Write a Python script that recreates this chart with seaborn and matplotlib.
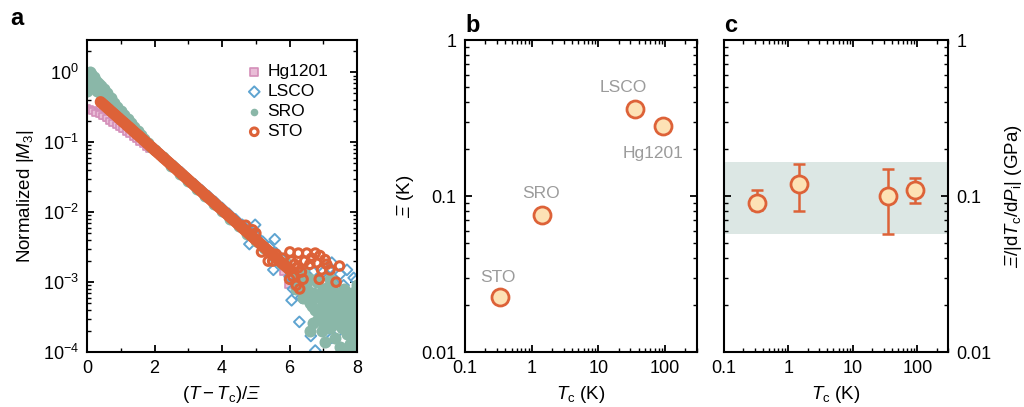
import matplotlib
matplotlib.use('Agg')
import matplotlib.pyplot as plt
import seaborn as sns
import numpy as np
import pandas as pd

# ---- panel a: normalized |M3| vs (T - Tc)/Xi ----
sto_x = [0.4, 0.5, 0.6, 0.7, 0.8, 0.9, 1.0, 1.1, 1.2, 1.3, 1.4, 1.5, 1.6, 1.7, 1.8, 1.9,
         2.0, 2.1, 2.2, 2.3, 2.4, 2.5, 2.6, 2.7, 2.8, 2.9, 3.0, 3.1, 3.2, 3.3, 3.4, 3.5,
         3.6, 3.7, 3.8, 3.9, 4.0, 4.1, 4.2, 4.3, 4.4, 4.5, 4.6, 4.7, 4.8, 4.9, 5.0, 5.1,
         5.2, 5.3, 5.4, 5.5, 5.6, 5.7, 5.8, 5.9, 6.0,
         0.45, 0.55, 0.65, 0.75, 0.85, 0.95, 1.05, 1.15, 1.25, 1.35, 1.45, 1.55, 1.65,
         1.75, 1.85, 1.95, 2.05, 2.15, 2.25, 2.35, 2.45, 2.55, 2.65, 2.75, 2.85, 2.95,
         3.05, 3.15, 3.25, 3.35, 3.45, 3.55, 3.65, 3.75, 3.85, 3.95, 4.05, 4.15, 4.25,
         4.35, 4.45, 4.55, 4.65, 4.75, 4.85, 4.95, 5.05, 5.15, 5.25, 5.35, 5.45, 5.55,
         5.65, 5.75, 5.85, 5.95,
         6.01, 6.26, 6.51, 6.76, 6.9, 7.48, 7.38, 6.88, 7.2, 6.95, 5.37, 5.17, 6.1, 6.2,
         6.3, 6.15, 6.35, 6.45, 6.6, 6.65, 6.8, 7.05, 7.1, 6.4, 6.05, 6.25, 5.6, 5.8,
         6.0, 5.0, 4.9, 4.7, 5.5]
sto_y = [0.378, 0.343, 0.311, 0.281, 0.255, 0.231, 0.209, 0.190, 0.172, 0.156, 0.141,
         0.128, 0.116, 0.105, 0.0949, 0.0860, 0.0779, 0.0706, 0.0639, 0.0579, 0.0525,
         0.0475, 0.0431, 0.0390, 0.0354, 0.0320, 0.0290, 0.0263, 0.0238, 0.0216, 0.0196,
         0.0177, 0.0161, 0.0146, 0.0132, 0.0119, 0.0108, 0.0098, 0.00888, 0.00805,
         0.00729, 0.0066, 0.00598, 0.00542, 0.00491, 0.00445, 0.00403, 0.00365, 0.00331,
         0.0030, 0.00272, 0.00246, 0.00223, 0.00202, 0.00183, 0.00166, 0.0015,
         0.360, 0.327, 0.296, 0.268, 0.243, 0.220, 0.199, 0.181, 0.164, 0.148, 0.134,
         0.122, 0.110, 0.0999, 0.0904, 0.0819, 0.0742, 0.0672, 0.0609, 0.0551, 0.0500,
         0.0452, 0.0410, 0.0372, 0.0337, 0.0305, 0.0276, 0.0250, 0.0227, 0.0206, 0.0186,
         0.0169, 0.0153, 0.0139, 0.0125, 0.0114, 0.0103, 0.00933, 0.00845, 0.00766,
         0.00694, 0.00628, 0.00569, 0.00516, 0.00467, 0.00424, 0.00384, 0.00348,
         0.00315, 0.00285, 0.00259, 0.00234, 0.00212, 0.00192, 0.00174, 0.00158,
         0.0027, 0.0026, 0.0026, 0.0026, 0.0024, 0.0017, 0.0010, 0.0011, 0.0015, 0.0015,
         0.0020, 0.0027, 0.0012, 0.0009, 0.0008, 0.0018, 0.0014, 0.0020, 0.0018, 0.0022,
         0.0019, 0.0021, 0.0018, 0.0011, 0.0020, 0.0016, 0.0025, 0.0022, 0.0011, 0.0050,
         0.0056, 0.0065, 0.0020]

sro_x = [0.0, 0.0, 0.0, 0.03, 0.03, 0.06, 0.06, 0.09, 0.09, 0.12, 0.15, 0.15, 0.2, 0.2,
         0.25, 0.3, 0.3, 0.35, 0.4, 0.4, 0.5, 0.5, 0.6, 0.6, 0.7, 0.8, 0.9, 1.0, 1.1, 1.2,
         1.3, 1.4, 1.5, 1.6, 1.7, 1.8, 1.9, 2.0, 2.25, 2.5, 2.75, 3.0, 3.25, 3.5, 3.75,
         4.0, 4.25, 4.5, 4.75, 5.0, 5.25, 5.5, 5.75, 6.0, 6.2,
         6.2, 6.4, 6.5, 6.6, 6.7, 6.75, 6.8, 6.85, 6.9, 6.95, 7.0, 7.0, 7.05, 7.1, 7.15,
         7.2, 7.25, 7.3, 7.35, 7.4, 7.4, 7.45, 7.5, 7.5, 7.55, 7.6, 7.6, 7.65, 7.7, 7.7,
         7.75, 7.8, 7.8, 7.85, 7.85, 7.9, 7.9, 7.95, 7.95, 8.0, 8.0, 8.0, 6.6, 7.2, 6.4,
         6.55, 6.65, 6.8, 6.9, 7.0, 7.1, 7.15, 7.25, 7.3, 7.35, 7.45, 7.5, 7.55, 7.6,
         7.65, 7.7, 7.75, 7.8, 7.85, 7.9, 7.95, 8.0, 7.0, 7.3, 7.5, 7.7, 7.9, 6.7, 7.1,
         6.6, 7.4, 7.6, 7.8, 8.0, 6.3, 6.45, 5.9, 0.05, 0.1, 0.18, 0.25, 0.45]
sro_y = [0.55, 0.7, 0.85, 0.6, 0.9, 0.7, 0.97, 0.8, 1.0, 0.95, 0.88, 0.62, 0.85, 0.6,
         0.78, 0.74, 0.55, 0.68, 0.64, 0.5, 0.57, 0.46, 0.5, 0.41, 0.43, 0.37, 0.32, 0.28,
         0.245, 0.215, 0.19, 0.165, 0.145, 0.128, 0.112, 0.099, 0.087, 0.077, 0.0625,
         0.046, 0.0355, 0.0275, 0.0215, 0.0168, 0.0132, 0.0103, 0.0080, 0.0063, 0.0049,
         0.0039, 0.0031, 0.0024, 0.0019, 0.0015, 0.0013,
         8e-4, 6e-4, 9e-4, 5e-4, 7e-4, 4e-4, 1e-3, 3e-4, 6e-4, 2e-4, 4.5e-4, 8e-4, 1.4e-4,
         3e-4, 6e-4, 2.2e-4, 9e-4, 4e-4, 1.6e-4, 5e-4, 2.5e-4, 7e-4, 3.5e-4, 1.2e-4,
         5.5e-4, 2.8e-4, 8e-4, 4e-4, 1.8e-4, 6e-4, 3e-4, 5e-4, 1.1e-4, 2.5e-4, 7e-4,
         4e-4, 1.5e-4, 5.5e-4, 3e-4, 9e-4, 2e-4, 4.5e-4, 1.1e-3, 1.1e-3, 1.5e-3,
         7.5e-4, 4.5e-4, 6.5e-4, 3.5e-4, 5.5e-4, 4.2e-4, 8.5e-4, 3.2e-4, 6.5e-4, 2.8e-4,
         4.2e-4, 6e-4, 2.2e-4, 4.8e-4, 7.5e-4, 3.6e-4, 5.2e-4, 2.2e-4, 4.6e-4, 3.4e-4,
         4.2e-4, 6.5e-4, 2.6e-4, 5.5e-4, 2.6e-4, 2.4e-4, 5.8e-4, 2.6e-4, 5.2e-4, 2.0e-4,
         3.2e-4, 3.0e-4, 1.3e-4, 3.6e-4, 1.0e-3, 1.2e-3, 1.9e-3, 0.75, 0.9, 0.7, 0.65, 0.55]

lsco_x = [0.0, 0.2, 0.4, 0.6, 0.8, 1.0, 1.2, 1.4, 1.6, 1.8, 2.0, 2.2, 2.4, 2.6, 2.8, 3.0,
          3.2, 3.4, 3.6, 3.8, 4.0, 4.2, 4.4, 4.6, 4.8, 5.0, 5.2, 5.4,
          4.81, 4.98, 5.56, 5.52, 5.6, 5.8, 6.06, 6.0, 6.1, 6.2, 6.29, 6.35, 6.4, 6.5,
          6.63, 6.6, 6.76, 6.8, 6.9, 7.0, 7.1, 7.25, 7.3, 7.4, 7.5, 7.6, 7.7, 7.8, 7.9,
          7.9, 7.97, 8.0, 7.2, 6.7, 7.45, 7.25]
lsco_y = [0.7, 0.6, 0.48, 0.38, 0.3, 0.235, 0.185, 0.148, 0.12, 0.098, 0.08, 0.066,
          0.054, 0.045, 0.037, 0.030, 0.025, 0.0205, 0.017, 0.014, 0.0115, 0.0095,
          0.0079, 0.0066, 0.0055, 0.0046, 0.0038, 0.0032,
          0.0035, 0.0066, 0.0041, 0.0015, 0.0026, 0.0021, 5.5e-4, 1.2e-3, 8e-4, 1.1e-3,
          2.7e-4, 6e-4, 9e-4, 1.3e-3, 1.7e-4, 7e-4, 1.05e-4, 1.1e-3, 8e-4, 1.4e-3, 6e-4,
          1.9e-3, 1.0e-3, 7e-4, 1.3e-3, 9e-4, 1.5e-3, 6e-4, 1.15e-3, 1.0e-4, 1.05e-3,
          8e-4, 1.6e-3, 1.4e-3, 2.0e-4, 1.6e-4]

hg_x = [0.0, 0.1, 0.2, 0.3, 0.4, 0.5, 0.6, 0.7, 0.8, 0.9, 1.0, 1.1, 1.2, 1.3, 1.4, 1.5,
        1.6, 1.7, 1.8, 1.9, 2.0, 2.25, 2.5, 2.75, 3.0, 3.25, 3.5, 3.75, 4.0, 4.25, 4.5,
        4.75, 5.0, 5.25, 5.5, 5.75, 6.0, 5.82, 5.96, 6.05,
        0.05, 0.15, 0.25, 0.35, 0.45, 0.55, 0.65, 0.75, 0.85, 0.95, 1.05, 1.15, 1.25,
        1.35, 1.45, 1.55, 1.65, 1.75, 1.85]
hg_y = [0.31, 0.30, 0.285, 0.27, 0.255, 0.24, 0.225, 0.21, 0.195, 0.182, 0.168, 0.156,
        0.145, 0.134, 0.124, 0.114, 0.105, 0.097, 0.089, 0.082, 0.076, 0.062, 0.047,
        0.036, 0.028, 0.0215, 0.0168, 0.0131, 0.0103, 0.0081, 0.0064, 0.0050, 0.0039,
        0.0031, 0.0024, 0.0019, 0.0015, 0.0014, 0.0009, 0.0011,
        0.29, 0.28, 0.265, 0.25, 0.235, 0.22, 0.205, 0.19, 0.178, 0.165, 0.153, 0.142,
        0.131, 0.121, 0.111, 0.102, 0.094, 0.086, 0.079]

# ---- panels b and c ----
samples = ['STO', 'SRO', 'LSCO', 'Hg1201']
tc = [0.33, 1.45, 35, 93]
xi = [0.0224, 0.0755, 0.36, 0.28]
ratio = [0.090, 0.120, 0.100, 0.110]
ratio_lo = [0.081, 0.080, 0.057, 0.090]
ratio_hi = [0.110, 0.160, 0.150, 0.130]
band_lo, band_hi = 0.057, 0.165

c_orange = '#dd6238'
c_fill = '#fde2b5'
c_teal = '#8ab7a8'
c_blue = '#5ea4d1'
c_pink = '#d48fb9'
c_gray = '#9b9b9b'

sns.set_theme(style='ticks')
plt.rcParams['font.family'] = ['Liberation Sans', 'DejaVu Sans']
plt.rcParams['mathtext.fontset'] = 'custom'
plt.rcParams['mathtext.rm'] = 'Liberation Sans'
plt.rcParams['mathtext.it'] = 'Liberation Sans:italic'
plt.rcParams['mathtext.sf'] = 'Liberation Sans:italic'  # used for italic Xi
plt.rcParams['mathtext.bf'] = 'Liberation Sans:bold'
for key in ['text.color', 'axes.labelcolor', 'xtick.color', 'ytick.color',
            'axes.edgecolor']:
    plt.rcParams[key] = 'black'

fig = plt.figure(figsize=(10.24, 4.07), dpi=100)
ax_a = fig.add_axes([0.085, 0.135, 0.2637, 0.7666])
ax_b = fig.add_axes([0.4541, 0.135, 0.2266, 0.7666])
ax_c = fig.add_axes([0.707, 0.135, 0.2188, 0.7666])

# panel a
df_hg = pd.DataFrame({'x': hg_x, 'y': hg_y})
df_lsco = pd.DataFrame({'x': lsco_x, 'y': lsco_y})
df_sro = pd.DataFrame({'x': sro_x, 'y': sro_y})
df_sto = pd.DataFrame({'x': sto_x, 'y': sto_y})

sns.scatterplot(data=df_hg, x='x', y='y', ax=ax_a, marker='s', s=22,
                facecolor='#e9bdd7', edgecolor=c_pink, linewidth=1.2, label='Hg1201')
sns.scatterplot(data=df_lsco, x='x', y='y', ax=ax_a, marker='D', s=30,
                facecolor='none', edgecolor=c_blue, linewidth=1.4, label='LSCO')
sns.scatterplot(data=df_sro, x='x', y='y', ax=ax_a, marker='o', s=75,
                color=c_teal, edgecolor=c_teal, linewidth=0, label='SRO')
sns.scatterplot(data=df_sto, x='x', y='y', ax=ax_a, marker='o', s=38,
                facecolor='none', edgecolor=c_orange, linewidth=2.2, label='STO')

ax_a.set_yscale('log')
ax_a.set_xlim(0, 8)
ax_a.set_ylim(1e-4, 2.9)
ax_a.set_xticks([0, 2, 4, 6, 8])
ax_a.set_xticks([1, 3, 5, 7], minor=True)
ax_a.set_xlabel(r'$(T - T_\mathrm{c})/\mathsf{\Xi}$', fontsize=13.5, labelpad=5)
ax_a.set_ylabel(r'Normalized $|M_3|$', fontsize=13.5, labelpad=5)
leg = ax_a.legend(loc='upper left', bbox_to_anchor=(0.555, 0.945), frameon=False,
                  fontsize=12.5, handletextpad=0.15, labelspacing=0.28,
                  borderaxespad=0, handlelength=1.2)
for h in leg.legend_handles:
    h.set_sizes([30])

# panel b
df_b = pd.DataFrame({'tc': tc, 'xi': xi, 'sample': samples})
sns.scatterplot(data=df_b, x='tc', y='xi', ax=ax_b, s=150, color=c_fill,
                edgecolor=c_orange, linewidth=2, zorder=3)
offsets = {'STO': (-1, 9), 'SRO': (-1, 10), 'LSCO': (-8, 10), 'Hg1201': (-7, -25)}
for name, x, y in zip(samples, tc, xi):
    ax_b.annotate(name, (x, y), xytext=offsets[name], textcoords='offset points',
                  ha='center', va='bottom', color=c_gray, fontsize=12.5)
ax_b.set_xscale('log')
ax_b.set_yscale('log')
ax_b.set_ylabel(r'$\mathsf{\Xi}$ (K)', fontsize=13.5, labelpad=4)

# panel c
ax_c.axhspan(band_lo, band_hi, color='#dce7e4', lw=0, zorder=0)
yerr = [np.array(ratio) - np.array(ratio_lo), np.array(ratio_hi) - np.array(ratio)]
ax_c.errorbar(tc, ratio, yerr=yerr, fmt='none', ecolor=c_orange, elinewidth=1.8,
              capsize=4.5, capthick=1.8, zorder=2)
df_c = pd.DataFrame({'tc': tc, 'ratio': ratio})
sns.scatterplot(data=df_c, x='tc', y='ratio', ax=ax_c, s=150, color=c_fill,
                edgecolor=c_orange, linewidth=2, zorder=3)
ax_c.set_xscale('log')
ax_c.set_yscale('log')
ax_c.yaxis.set_label_position('right')
ax_c.yaxis.tick_right()
ax_c.set_ylabel(r'$\mathsf{\Xi}/|\mathrm{d}T_\mathrm{c}/\mathrm{d}P_\mathrm{i}|$ (GPa)',
                fontsize=13.5, labelpad=8)

for ax in (ax_b, ax_c):
    ax.set_xlim(0.1, 300)
    ax.set_ylim(0.01, 1)
    ax.set_xticks([0.1, 1, 10, 100], labels=['0.1', '1', '10', '100'])
    ax.set_yticks([0.01, 0.1, 1], labels=['0.01', '0.1', '1'])
    ax.set_xlabel(r'$T_\mathrm{c}$ (K)', fontsize=13.5, labelpad=5)

for ax in (ax_a, ax_b, ax_c):
    ax.tick_params(which='both', direction='in', top=True, right=True, left=True,
                   labelsize=13, pad=6)
    ax.tick_params(which='major', length=5, width=1.3)
    ax.tick_params(which='minor', length=2.8, width=1.0)
    for sp in ax.spines.values():
        sp.set_linewidth(1.5)
        sp.set_visible(True)
ax_c.tick_params(which='both', labelleft=False, labelright=True)

fig.text(0.010, 0.955, 'a', fontsize=17, fontweight='bold', va='center')
fig.text(0.4541, 0.938, 'b', fontsize=17, fontweight='bold', va='center')
fig.text(0.707, 0.938, 'c', fontsize=17, fontweight='bold', va='center')

fig.savefig('out.png', dpi=100)
